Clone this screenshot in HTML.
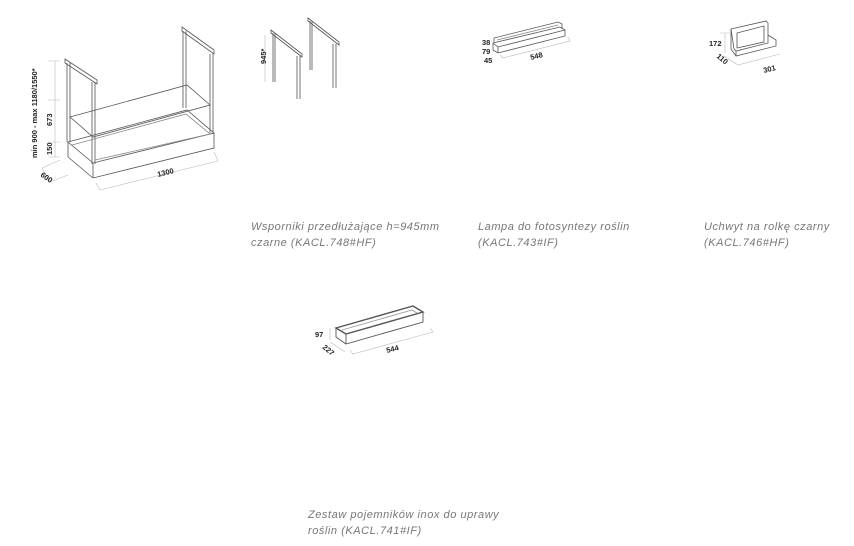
<!DOCTYPE html>
<html><head><style>
body{margin:0;width:854px;height:546px;background:#fff;overflow:hidden;font-family:"Liberation Sans",sans-serif}
.c{position:absolute;font-style:italic;font-size:11px;color:#777;line-height:16px;letter-spacing:0.55px}
svg{position:absolute;left:0;top:0}
</style></head><body>
<svg width="854" height="546" viewBox="0 0 854 546">
<g fill="none" stroke="#555" stroke-width="0.8">
<path d="M65,59 L97,80 L97,84 L65,63 Z"/>
<path d="M182,27 L214,50 L214,54 L182,31 Z"/>
<path d="M67,63 V142 M70,63 V142"/>
<path d="M92,82 V164 M95,82 V164"/>
<path d="M183,31 V108 M186,31 V108"/>
<path d="M210,54 V133 M213,54 V133"/>
<path d="M70,117 L187,85 L210,105 L93,137 Z"/>
<path d="M68,142 L187,110 L214,133 L93,163 Z"/>
<path d="M68,142 V157 L93,178 L214,148 V133 M93,163 V178"/>
<path d="M72,145 L186,114 L210,134 L95,160" stroke="#888"/>
</g>
<g fill="none" stroke="#bbb" stroke-width="0.6">
<path d="M60,160 L42,168 M42,168 L50,182 M50,182 L68,175"/>
<path d="M96,183 L100,190 M100,190 L218,161 M218,161 L214,152"/>
<path d="M60,61 H48 M60,100 H48 M60,142 H48 M60,157 H48 M55,61 V157"/>
</g>
<g font-family="Liberation Sans,sans-serif" font-size="7.5" fill="#222" font-weight="bold">
<text transform="translate(37,158) rotate(-90)">min 900 - max 1180/1550*</text>
<text transform="translate(52,126) rotate(-90)">673</text>
<text transform="translate(52,155) rotate(-90)">150</text>
<text transform="translate(40,176) rotate(35)">600</text>
<text transform="translate(158,177) rotate(-14)">1300</text>
</g>
<g fill="none" stroke="#555" stroke-width="0.8">
<path d="M271,30 L302,54 L302,57 L271,33 Z"/>
<path d="M273,33 V82 M275,33 V82"/>
<path d="M297,56 V99 M300,56 V99"/>
<path d="M308,18 L339,42 L339,45 L308,21 Z"/>
<path d="M310,21 V70 M312,21 V70"/>
<path d="M333,44 V88 M336,44 V88"/>
</g>
<path d="M265,35 V82" stroke="#bbb" stroke-width="0.6"/>
<text transform="translate(266,64) rotate(-90)" font-size="7.5" font-weight="bold" fill="#222">945*</text>
<g fill="none" stroke="#555" stroke-width="0.8">
<path d="M493,43 L560,27 L565,30 L565,36 L498,53 L493,50 Z"/>
<path d="M493,43 L498,47 L565,30 M498,47 V53"/>
<path d="M494,42 L494,38 L558,22 L562,24 L562,29" />
<path d="M497,40 L558,25" stroke="#888"/>
</g>
<path d="M500,55 L503,58 L570,41 L568,37" fill="none" stroke="#bbb" stroke-width="0.6"/>
<g font-size="7.5" font-weight="bold" fill="#222">
<text x="482" y="45">38</text><text x="482" y="54">79</text><text x="484" y="63">45</text>
<text transform="translate(531,60) rotate(-14)">548</text>
</g>
<g fill="none" stroke="#555" stroke-width="0.8">
<path d="M731,29 L766,21 L768,23 V43 L736,51 L734,49 Z"/>
<path d="M737,33 L764,26 V42 L737,48 Z"/>
<path d="M731,29 V49 L736,56 L776,46 V40 L768,35"/>
<path d="M736,51 V56"/>
</g>
<path d="M720,33 H730 M725,33 V53 M724,56 L738,65 L780,54" fill="none" stroke="#bbb" stroke-width="0.6"/>
<g font-size="7.5" font-weight="bold" fill="#222">
<text x="709" y="46">172</text>
<text transform="translate(716,57) rotate(40)">110</text>
<text transform="translate(764,73) rotate(-14)">301</text>
</g>
<g fill="none" stroke="#555" stroke-width="0.9">
<path d="M336,328 L413,306 L423,312 L346,334 Z" stroke-width="1.4"/>
<path d="M336,328 V337 L346,344 L423,322 V312 M346,334 V344"/>
<path d="M342,330 L412,310 L417,313" stroke="#999"/>
</g>
<path d="M330,328 V340 M330,342 L345,352 M350,350 L353,354 L433,332 L430,328" fill="none" stroke="#bbb" stroke-width="0.6"/>
<g font-size="7.5" font-weight="bold" fill="#222">
<text x="315" y="337">97</text>
<text transform="translate(322,348) rotate(40)">227</text>
<text transform="translate(387,353) rotate(-14)">544</text>
</g>
</svg>
<div class="c" style="left:251px;top:219px">Wsporniki przedłużające h=945mm<br>czarne (KACL.748#HF)</div>
<div class="c" style="left:478px;top:219px">Lampa do fotosyntezy roślin<br>(KACL.743#IF)</div>
<div class="c" style="left:704px;top:219px">Uchwyt na rolkę czarny<br>(KACL.746#HF)</div>
<div class="c" style="left:308px;top:507px">Zestaw pojemników inox do uprawy<br>roślin (KACL.741#IF)</div>
</body></html>
